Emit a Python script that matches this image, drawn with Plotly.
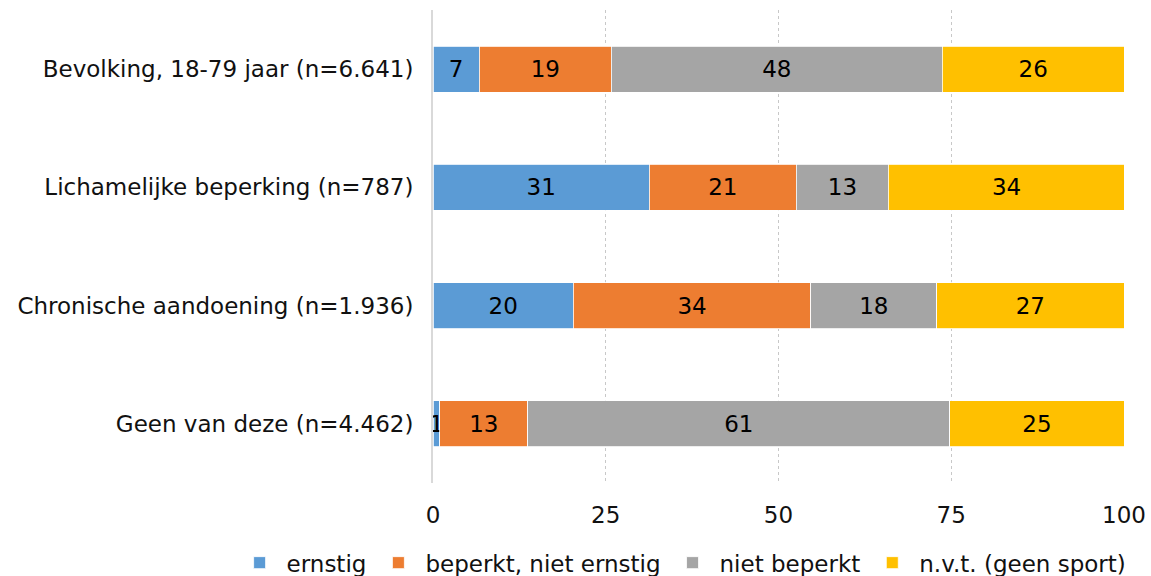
import plotly.graph_objects as go

categories = ["Bevolking, 18-79 jaar (n=6.641)", "Lichamelijke beperking (n=787)",
              "Chronische aandoening (n=1.936)", "Geen van deze (n=4.462)"]
series_names = ["ernstig", "beperkt, niet ernstig", "niet beperkt", "n.v.t. (geen sport)"]
ernstig = [6.7, 31.3, 20.3, 1.0]
beperkt = [19.1, 21.3, 34.4, 12.7]
niet_beperkt = [47.9, 13.3, 18.2, 61.1]
nvt = [26.3, 34.2, 27.1, 25.2]
x_ticks = [0, 25, 50, 75, 100]

colors = ["#5B9BD5", "#ED7D31", "#A5A5A5", "#FFC000"]
FONT = "DejaVu Sans"
FS = 23

fig = go.Figure()
for name, vals, col in zip(series_names, [ernstig, beperkt, niet_beperkt, nvt], colors):
    fig.add_trace(go.Bar(
        y=categories, x=vals, name=name, orientation="h",
        marker=dict(color=col, line=dict(color="white", width=0.8)),
        text=[f"{v:.0f}" for v in vals], textposition="inside",
        insidetextanchor="middle", textangle=0,
        textfont=dict(family=FONT, size=FS, color="#000000"),
        hoverinfo="skip",
    ))

fig.update_layout(
    barmode="stack", bargap=0.61,
    width=1151, height=576,
    margin=dict(l=433, r=27, t=10, b=93, autoexpand=False),
    plot_bgcolor="white", paper_bgcolor="white",
    font=dict(family=FONT, size=FS, color="#111111"),
    uniformtext=dict(minsize=FS, mode="show"),
    showlegend=True,
    legend=dict(orientation="h", x=-0.29, xanchor="left", y=-0.123, yanchor="top",
                font=dict(family=FONT, size=FS, color="#111111"),
                itemwidth=44,
                traceorder="normal", itemclick=False, tracegroupgap=0),
)
fig.update_xaxes(range=[0, 100], tickvals=x_ticks, showgrid=True,
                 gridcolor="#c8c8c8", griddash="dot", gridwidth=1,
                 zeroline=False, showline=False, ticks="",
                 ticklabelstandoff=16, tickfont=dict(size=FS))
fig.update_yaxes(categoryorder="array", categoryarray=categories, autorange="reversed",
                 showline=True, linecolor="#d9d9d9", linewidth=2,
                 ticks="", ticklabelstandoff=13, tickfont=dict(size=FS))

fig.write_html("out.html")
